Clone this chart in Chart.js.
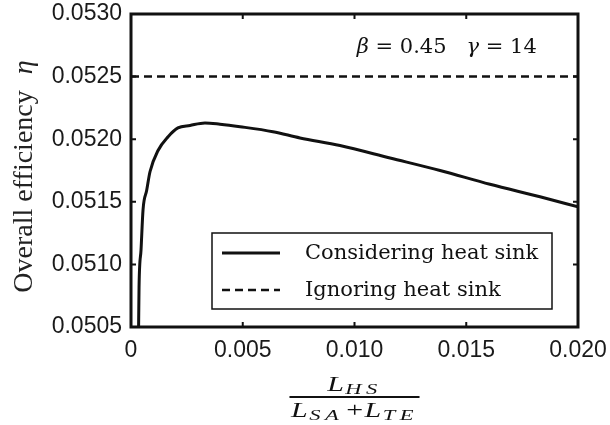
<!DOCTYPE html>
<html>
<head>
<meta charset="utf-8">
<script src="https://cdn.jsdelivr.net/npm/chart.js@4"></script>
<style>
  html, body { margin: 0; padding: 0; background: #fff; }
  #wrap { width: 610px; height: 425px; }
</style>
</head>
<body>
<div id="wrap"><canvas id="efficiency_canvas" width="610" height="425"></canvas></div>
<script>
// values
const length_ratio = [0.00034, 0.00036, 0.00045, 0.00054, 0.00070, 0.00085, 0.00121, 0.00166,
  0.00210, 0.00264, 0.00331, 0.00398, 0.00488, 0.00635, 0.00756, 0.00935, 0.01159, 0.01383,
  0.01606, 0.01830, 0.02000];
const eta_with_sink = [0.05050, 0.05082, 0.05112, 0.05144, 0.05159, 0.05174, 0.05191, 0.05202,
  0.05209, 0.05211, 0.05213, 0.05212, 0.05210, 0.05206, 0.05201, 0.05195, 0.05185, 0.05175,
  0.05164, 0.05154, 0.05146];
const ignore_x = [0, 0.02];
const eta_without_sink = [0.0525, 0.0525];
const series_labels = ['Considering heat sink', 'Ignoring heat sink'];
const x_ticks = [0, 0.005, 0.010, 0.015, 0.020];
const y_ticks = [0.0505, 0.0510, 0.0515, 0.0520, 0.0525, 0.0530];

const INK = '#111';

function to_points(xs, ys) {
  return xs.map((x, i) => ({ x: x, y: ys[i] }));
}

// keep Chart.js from adding label overflow on top of the layout padding
function no_overflow(scale) {
  scale.paddingTop = 0;
  scale.paddingBottom = 0;
  scale.paddingLeft = 0;
  scale.paddingRight = 0;
}

/**
 * Draws the frame, inward ticks, the parameter note, the legend box and the
 * axis titles (the x title is a fraction, so it's done by hand).
 */
const decorations = {
  id: 'decorations',
  afterDatasetsDraw(chart) {
    const ctx = chart.ctx;
    const area = chart.chartArea;
    const xs = chart.scales.x;
    const ys = chart.scales.y;
    ctx.save();

    // frame
    ctx.strokeStyle = INK;
    ctx.lineWidth = 3;
    ctx.strokeRect(area.left, area.top, area.right - area.left, area.bottom - area.top);

    // inward ticks on all four sides
    ctx.lineWidth = 2;
    ctx.beginPath();
    for (const v of x_ticks) {
      const px = xs.getPixelForValue(v);
      ctx.moveTo(px, area.bottom); ctx.lineTo(px, area.bottom - 5);
      ctx.moveTo(px, area.top); ctx.lineTo(px, area.top + 5);
    }
    for (const v of y_ticks) {
      const py = ys.getPixelForValue(v);
      ctx.moveTo(area.left, py); ctx.lineTo(area.left + 5, py);
      ctx.moveTo(area.right, py); ctx.lineTo(area.right - 5, py);
    }
    ctx.stroke();

    // parameter note
    ctx.fillStyle = INK;
    ctx.textBaseline = 'alphabetic';
    let nx = xs.getPixelForValue(0.0101);
    const ny = ys.getPixelForValue(0.05269);
    const note = [
      ['italic 21px "DejaVu Serif"', 'β'],
      ['21px "DejaVu Serif"', ' = 0.45   '],
      ['italic 21px "DejaVu Serif"', 'γ'],
      ['21px "DejaVu Serif"', ' = 14']
    ];
    for (const [font, text] of note) {
      ctx.font = font;
      ctx.fillText(text, nx, ny);
      nx += ctx.measureText(text).width;
    }

    // legend
    const box_left = area.left + 81;
    const box_top = area.bottom - 94;
    const box_w = 340;
    const box_h = 76;
    ctx.fillStyle = '#fff';
    ctx.fillRect(box_left, box_top, box_w, box_h);
    ctx.strokeStyle = INK;
    ctx.lineWidth = 1.5;
    ctx.strokeRect(box_left, box_top, box_w, box_h);
    chart.data.datasets.forEach((ds, i) => {
      const row_y = box_top + 20 + i * 37;
      ctx.beginPath();
      ctx.lineWidth = ds.borderWidth;
      ctx.setLineDash(ds.borderDash || []);
      ctx.moveTo(box_left + 10, row_y);
      ctx.lineTo(box_left + 68, row_y);
      ctx.stroke();
      ctx.setLineDash([]);
      ctx.fillStyle = INK;
      ctx.font = '21px "DejaVu Serif"';
      ctx.textBaseline = 'middle';
      ctx.fillText(ds.label, box_left + 93, row_y + 1);
    });

    // y title, rotated
    ctx.save();
    ctx.translate(25, (area.top + area.bottom) / 2 + 6);
    ctx.rotate(-Math.PI / 2);
    ctx.textBaseline = 'middle';
    ctx.fillStyle = '#222';
    ctx.font = '28px "Liberation Serif"';
    const y_word = 'Overall efficiency';
    const w1 = ctx.measureText(y_word).width;
    ctx.font = 'italic 28px "Liberation Serif"';
    const w2 = ctx.measureText('η').width;
    const total = w1 + 16 + w2;
    ctx.font = '28px "Liberation Serif"';
    ctx.fillText(y_word, -total / 2, 0);
    ctx.font = 'italic 28px "Liberation Serif"';
    ctx.fillText('η', -total / 2 + w1 + 16, 0);
    ctx.restore();

    // x title: L_HS / (L_SA + L_TE), drawn a bit stretched like the original
    const cx = (area.left + area.right) / 2;
    const stretch = 1.5;
    const big = 'italic 20px "Liberation Serif"';
    const small = 'italic 15px "Liberation Serif"';
    const plain = '20px "Liberation Serif"';
    const part_w = (p) => {
      ctx.font = p[0];
      ctx.letterSpacing = p[0] === small ? '3px' : '0px';
      return ctx.measureText(p[1]).width + (p[3] || 0);
    };
    const measure = (parts) => parts.reduce((s, p) => s + part_w(p), 0);
    const draw_parts = (parts, baseline) => {
      let x = -measure(parts) / 2;
      for (const p of parts) {
        const w = part_w(p);
        ctx.fillText(p[1], x, baseline + p[2]);
        x += w;
      }
    };
    ctx.save();
    ctx.translate(cx, 0);
    ctx.scale(stretch, 1);
    ctx.fillStyle = INK;
    ctx.textBaseline = 'alphabetic';
    const num = [[big, 'L', 0, 1], [small, 'HS', 3]];
    const den = [[big, 'L', 0, 1], [small, 'SA', 3, 2], [plain, '+', 0, 1], [big, 'L', 0, 1], [small, 'TE', 3]];
    draw_parts(num, area.bottom + 64);
    const den_w = measure(den);
    draw_parts(den, area.bottom + 90);
    ctx.lineWidth = 1.6;
    ctx.beginPath();
    ctx.moveTo(-den_w / 2 - 1, area.bottom + 70);
    ctx.lineTo(den_w / 2 + 1, area.bottom + 70);
    ctx.restore();
    ctx.strokeStyle = INK;
    ctx.lineWidth = 1.8;
    ctx.stroke();
    ctx.letterSpacing = '0px';

    ctx.restore();
  }
};

new Chart(document.getElementById('efficiency_canvas'), {
  type: 'line',
  data: {
    datasets: [
      {
        label: series_labels[0],
        data: to_points(length_ratio, eta_with_sink),
        borderColor: INK,
        borderWidth: 3,
        pointRadius: 0,
        cubicInterpolationMode: 'monotone',
        fill: false
      },
      {
        label: series_labels[1],
        data: to_points(ignore_x, eta_without_sink),
        borderColor: INK,
        borderWidth: 2.5,
        borderDash: [8, 5],
        pointRadius: 0,
        fill: false
      }
    ]
  },
  options: {
    responsive: false,
    animation: false,
    layout: { padding: { top: 14, right: 32, left: 0, bottom: 0 } },
    plugins: {
      legend: { display: false },
      tooltip: { enabled: false }
    },
    scales: {
      x: {
        type: 'linear',
        min: 0,
        max: 0.02,
        afterFit: (scale) => { scale.height = 98; no_overflow(scale); },
        afterBuildTicks: (scale) => { scale.ticks = x_ticks.map(v => ({ value: v })); },
        grid: { display: false, drawTicks: false },
        border: { display: false },
        ticks: {
          padding: 10,
          color: '#1a1a1a',
          font: { family: '"Liberation Sans"', size: 23 },
          callback: (v) => v === 0 ? '0' : v.toFixed(3)
        }
      },
      y: {
        min: 0.0505,
        max: 0.0530,
        afterFit: (scale) => { scale.width = 131; no_overflow(scale); },
        afterBuildTicks: (scale) => { scale.ticks = y_ticks.map(v => ({ value: v })); },
        grid: { display: false, drawTicks: false },
        border: { display: false },
        ticks: {
          padding: 9,
          color: '#1a1a1a',
          font: { family: '"Liberation Sans"', size: 23 },
          callback: (v) => v.toFixed(4)
        }
      }
    }
  },
  plugins: [decorations]
});
</script>
</body>
</html>
